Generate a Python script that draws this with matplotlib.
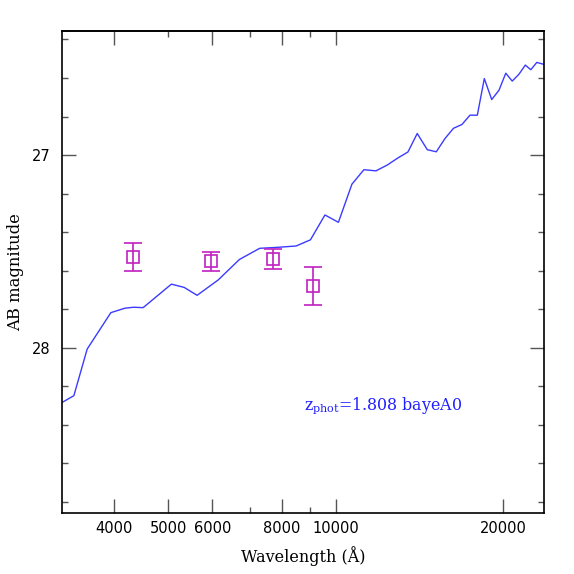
import numpy as np
import matplotlib
matplotlib.use("Agg")
import matplotlib.pyplot as plt
from matplotlib.ticker import FixedLocator, NullFormatter, FixedFormatter

# модельный спектр (длина волны в Å, AB-величина)
sed_wave = [3222, 3382, 3574, 3942, 4177, 4331, 4506, 5066, 5341, 5634,
            6150, 6713, 7302, 7859, 8489, 9009, 9566, 10116, 10698, 11242,
            11815, 12380, 12958, 13491, 14020, 14614, 15171, 15729, 16293, 16875,
            17443, 17981, 18510, 19086, 19672, 20230, 20778, 21370, 21934, 22440,
            23006, 23672]
sed_mag = [28.284, 28.249, 28.007, 27.818, 27.795, 27.790, 27.792, 27.670, 27.687, 27.728,
           27.648, 27.542, 27.484, 27.479, 27.472, 27.440, 27.311, 27.349, 27.151, 27.076,
           27.082, 27.052, 27.014, 26.984, 26.888, 26.972, 26.983, 26.914, 26.861, 26.841,
           26.793, 26.793, 26.603, 26.712, 26.663, 26.575, 26.616, 26.580, 26.533, 26.557,
           26.519, 26.529]

# фотометрия
phot_wave = [4324, 5960, 7721, 9092]
phot_mag = [27.530, 27.551, 27.539, 27.679]
phot_err = [0.071, 0.050, 0.051, 0.098]

x_major = [4000, 5000, 6000, 8000, 10000, 20000]
x_minor = [7000, 9000]
x_labels = ["4000", "5000", "6000", "8000", "10000", "20000"]

plt.rcParams["mathtext.fontset"] = "dejavuserif"

fig = plt.figure(figsize=(5.74, 5.74), dpi=100)
ax = fig.add_axes([62 / 574, 1 - 513 / 574, 481.7 / 574, 482 / 574])

ax.plot(sed_wave, sed_mag, color="#3b3bff", linewidth=1.0)
ax.errorbar(phot_wave, phot_mag, yerr=phot_err, fmt="s", mfc="none", mec="#c020c0",
            ecolor="#c020c0", ms=8, mew=1.2, elinewidth=1.2, capsize=6.5, capthick=1.2)

ax.set_xscale("log")
ax.set_xlim(3220, 23670)
ax.set_ylim(28.858, 26.356)

ax.xaxis.set_major_locator(FixedLocator(x_major))
ax.xaxis.set_major_formatter(FixedFormatter(x_labels))
ax.xaxis.set_minor_locator(FixedLocator(x_minor))
ax.xaxis.set_minor_formatter(NullFormatter())
ax.yaxis.set_major_locator(FixedLocator([27, 28]))
ax.yaxis.set_minor_locator(FixedLocator(np.arange(26.4, 28.81, 0.2)))

ax.tick_params(which="both", direction="in", left=True, right=True, bottom=True, top=False,
               color="#555555", width=1.0, labelsize=10.5)
ax.tick_params(axis="x", pad=6)
ax.tick_params(axis="y", pad=8)
ax.tick_params(which="major", length=10)
ax.tick_params(which="minor", length=4.5)

# верхняя ось: 5000 там короткая
top = ax.secondary_xaxis("top")
top.xaxis.set_major_locator(FixedLocator([4000, 6000, 8000, 10000, 20000]))
top.xaxis.set_minor_locator(FixedLocator([5000, 7000, 9000]))
top.xaxis.set_major_formatter(NullFormatter())
top.xaxis.set_minor_formatter(NullFormatter())
top.tick_params(which="both", direction="in", color="#555555", width=1.0)
top.tick_params(which="major", length=10)
top.tick_params(which="minor", length=4.5)

for s in ax.spines.values():
    s.set_linewidth(1.2)
top.spines["top"].set_linewidth(1.2)

ax.set_xlabel("Wavelength (Å)", family="DejaVu Serif", fontsize=11.5, labelpad=7)
ax.set_ylabel("AB magnitude", family="DejaVu Serif", fontsize=11.8, labelpad=6)

ax.text(0.502, 0.216, r"z$_{\rm phot}$=1.808 bayeA0", transform=ax.transAxes,
        color="#2020ff", family="DejaVu Serif", fontsize=11.4, va="baseline")

fig.savefig("out.png", dpi=100)
